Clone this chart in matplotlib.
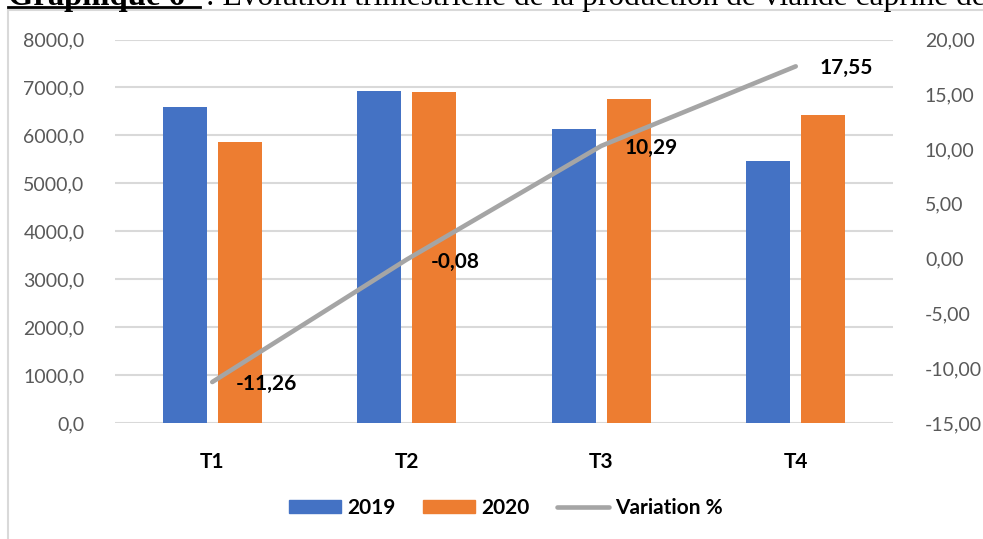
import matplotlib
matplotlib.use("Agg")
import matplotlib.pyplot as plt
from matplotlib.lines import Line2D
from matplotlib.patches import Rectangle, Patch
import numpy as np

# data
trimestres = ["T1", "T2", "T3", "T4"]
prod_2019 = [6598, 6918, 6126, 5459]
prod_2020 = [5855, 6912, 6756, 6418]
variation = [-11.26, -0.08, 10.29, 17.55]

W, H = 983, 539
plt.rcParams["font.family"] = ["Lato", "DejaVu Sans"]

fig = plt.figure(figsize=(W / 100, H / 100), dpi=100)


def fx(px):
    return px / W


def fy(py):
    return 1 - py / H


# chart frame (cut on the right and bottom like the original)
fig.patches.append(Rectangle((fx(8), -0.2), 2, fy(10) + 0.2, transform=fig.transFigure,
                             fill=False, edgecolor="#D9D9D9", lw=1.5))

# title, cut on top as in the original
fig.text(fx(8), fy(5), "Graphique 6", family="Liberation Serif", fontsize=23.5,
         fontweight="bold", va="baseline", ha="left")
fig.text(fx(198), fy(5), " : Évolution trimestrielle de la production de viande caprine de",
         family="Liberation Serif", fontsize=22.6, va="baseline", ha="left")
fig.lines.append(Line2D([fx(8), fx(200)], [fy(7), fy(7)], transform=fig.transFigure,
                        color="black", lw=2))

ax = fig.add_axes([fx(115), fy(423), fx(893) - fx(115), fy(39.5) - fy(423)])
ax2 = ax.twinx()

x = np.arange(len(trimestres))
bw = 0.226
off = 0.1415
ax.bar(x - off, prod_2019, bw, color="#4472C4", zorder=2, label="2019")
ax.bar(x + off, prod_2020, bw, color="#ED7D31", zorder=2, label="2020")

ax.set_xlim(-0.5, 3.5)
ax.set_ylim(0, 8000)
ax.set_yticks(np.arange(0, 8001, 1000))
ax.set_yticklabels([f"{v:.1f}".replace(".", ",") for v in np.arange(0, 8001, 1000)])
ax.grid(axis="y", color="#D9D9D9", lw=1.5, zorder=0)
ax.set_axisbelow(True)
ax.set_xticks(x)
ax.set_xticklabels(trimestres, fontweight="bold", fontsize=15, color="black")
ax.tick_params(axis="x", length=0, pad=21)
ax.tick_params(axis="y", length=0, pad=22, labelsize=14, labelcolor="#595959")
for s in ax.spines.values():
    s.set_visible(False)

ax2.plot(x, variation, color="#A5A5A5", lw=3.3, solid_capstyle="round", zorder=3)
ax2.set_ylim(-15, 20)
ax2.set_yticks(np.arange(-15, 21, 5))
ax2.set_yticklabels([f"{v:.2f}".replace(".", ",") for v in np.arange(-15, 21, 5)])
ax2.tick_params(axis="y", length=0, pad=23, labelsize=14, labelcolor="#595959")
for s in ax2.spines.values():
    s.set_visible(False)

for xi, v in zip(x, variation):
    ax2.annotate(f"{v:.2f}".replace(".", ","), (xi, v), xytext=(17, -1.5),
                 textcoords="offset points", ha="left", va="center",
                 fontsize=15, fontweight="bold", color="black")

handles = [Patch(color="#4472C4"), Patch(color="#ED7D31"),
           Line2D([0], [0], color="#A5A5A5", lw=3.3, solid_capstyle="round")]
fig.legend(handles, ["2019", "2020", "Variation %"], loc="center",
           bbox_to_anchor=(fx(506), fy(508)), ncol=3, frameon=False,
           handlelength=2.5, handleheight=0.6, handletextpad=0.3,
           columnspacing=1.3, prop={"weight": "bold", "size": 15})

fig.savefig("out.png", dpi=100)
